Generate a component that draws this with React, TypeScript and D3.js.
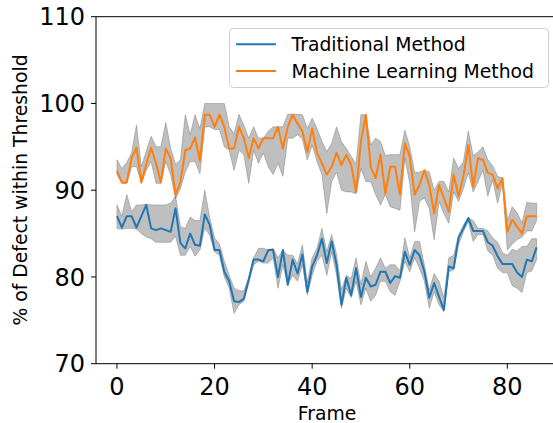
import React from "react";
import * as d3 from "d3";

const traditionalMean = [
  87.0, 85.7, 87.0, 87.0, 85.7, 87.0, 88.3, 85.6, 85.4, 85.6,
  85.4, 85.2, 87.9, 83.9, 83.3, 85.0, 83.7, 83.6, 87.2, 86.0,
  83.1, 83.1, 80.6, 79.5, 77.2, 77.1, 77.5, 79.7, 82.0, 82.0,
  81.8, 83.1, 83.1, 80.0, 83.1, 79.1, 82.0, 80.4, 82.6, 78.3,
  81.2, 82.5, 84.4, 81.6, 84.1, 81.4, 76.8, 79.9, 77.9, 81.0,
  77.7, 79.9, 78.9, 79.1, 80.6, 80.6, 79.3, 80.1, 79.9, 82.9,
  81.4, 83.1, 82.5, 80.6, 77.6, 79.3, 77.7, 76.2, 81.2, 81.0,
  84.5, 85.6, 86.8, 85.3, 85.3, 85.3, 84.0, 83.6, 82.4, 81.5,
  81.5, 81.5, 80.5, 80.0, 82.0, 81.8, 83.4,
];
const traditionalUpper = [
  88.3, 87.0, 89.5, 87.5, 88.3, 88.3, 88.4, 88.3, 88.3, 88.3,
  88.3, 88.5, 89.3, 85.8, 85.6, 86.9, 86.5, 86.5, 90.0, 86.8,
  84.5, 83.8, 81.8, 80.2, 78.7, 78.4, 78.4, 79.9, 82.2, 83.3,
  83.3, 83.1, 83.3, 82.2, 83.1, 82.5, 82.5, 81.5, 83.7, 79.4,
  82.2, 83.3, 85.6, 82.9, 84.9, 82.6, 78.5, 80.2, 79.8, 82.2,
  79.1, 81.8, 80.0, 81.0, 82.2, 81.0, 81.4, 81.4, 80.7, 84.5,
  82.2, 84.1, 84.1, 81.4, 78.5, 80.4, 79.5, 77.6, 82.2, 82.5,
  84.8, 86.0, 86.8, 86.5, 85.6, 85.6, 85.3, 84.5, 84.0, 82.8,
  82.5, 83.2, 83.0, 83.5, 83.5, 84.4, 84.4,
];
const traditionalLower = [
  85.6, 85.5, 85.6, 85.6, 85.5, 85.0, 84.6, 84.4, 84.0, 84.0,
  84.0, 84.0, 84.7, 82.5, 82.5, 83.5, 82.4, 83.1, 85.6, 84.8,
  82.9, 82.5, 80.0, 78.7, 75.8, 76.8, 77.2, 79.3, 81.4, 81.8,
  81.6, 81.6, 82.2, 78.7, 81.4, 79.1, 80.2, 79.5, 81.4, 77.9,
  80.2, 81.8, 82.5, 80.2, 82.9, 80.2, 76.4, 78.7, 77.6, 79.5,
  76.8, 78.7, 77.2, 77.9, 79.5, 79.5, 78.3, 77.9, 79.5, 81.8,
  80.6, 82.2, 81.0, 79.5, 76.4, 78.3, 76.8, 76.0, 80.6, 80.8,
  83.7, 85.2, 86.4, 84.1, 84.9, 84.9, 83.0, 82.5, 81.0, 80.5,
  80.5, 79.0, 78.7, 78.2, 80.5, 80.7, 82.0,
];

const mlMean = [
  92.2, 90.9, 90.9, 93.7, 94.9, 90.9, 93.0, 94.9, 93.1, 90.9,
  94.8, 93.7, 89.5, 90.9, 94.6, 94.8, 96.1, 93.4, 98.7, 98.7,
  97.3, 98.7, 97.3, 94.8, 94.8, 97.3, 96.0, 93.7, 96.0, 94.8,
  96.0, 96.0, 96.0, 97.3, 94.8, 97.3, 98.7, 97.7, 96.8, 94.4,
  97.1, 94.3, 93.1, 91.8, 92.7, 94.3, 92.9, 94.1, 92.9, 89.8,
  95.6, 98.7, 92.7, 91.4, 94.1, 89.6, 92.7, 92.7, 89.5, 95.4,
  93.9, 89.5, 90.6, 92.3, 90.6, 87.3, 90.6, 89.1, 87.5, 91.8,
  89.3, 91.6, 95.2, 90.4, 93.7, 93.5, 92.0, 91.8, 90.2, 91.4,
  85.2, 86.6, 85.8, 85.0, 87.0, 87.0, 87.0,
];
const mlUpper = [
  93.5, 92.5, 93.2, 94.3, 97.5, 92.7, 94.5, 96.2, 95.0, 95.0,
  97.8, 94.8, 93.0, 93.5, 98.7, 96.4, 98.7, 97.1, 100, 100,
  100, 100, 100, 97.3, 96.5, 98.75, 97.5, 96.0, 97.3, 96.0,
  96.0, 96.8, 97.3, 97.3, 97.3, 98.75, 98.75, 98.75, 98.7, 97.1,
  98.3, 97.1, 95.6, 94.45, 95.4, 97.3, 95.6, 94.8, 93.9, 93.0,
  98.7, 98.7, 95.2, 96.0, 95.6, 94.0, 94.1, 94.1, 94.1, 96.9,
  95.0, 92.0, 92.1, 92.3, 92.1, 90.0, 91.0, 91.0, 89.8, 93.7,
  92.5, 93.3, 96.8, 94.0, 94.4, 95.0, 93.5, 92.8, 91.6, 91.4,
  86.5, 88.1, 87.4, 86.2, 88.6, 88.5, 88.5,
];
const mlLower = [
  91.8, 90.8, 90.8, 92.7, 92.7, 90.8, 92.3, 93.3, 90.8, 90.8,
  93.3, 91.8, 89.0, 90.2, 92.1, 93.3, 93.3, 91.9, 97.3, 97.3,
  97.0, 97.0, 95.0, 94.6, 92.3, 94.6, 94.1, 90.8, 94.6, 93.1,
  94.3, 92.7, 91.8, 93.1, 91.6, 96.0, 96.0, 96.4, 95.9, 93.5,
  95.2, 93.3, 91.8, 87.3, 91.0, 92.1, 90.0, 89.8, 89.8, 89.6,
  92.5, 91.0, 91.0, 89.5, 88.3, 89.5, 88.1, 87.9, 87.7, 93.7,
  90.8, 85.2, 88.7, 89.1, 87.9, 84.3, 88.7, 87.3, 86.2, 89.8,
  88.7, 90.2, 92.0, 89.8, 91.0, 92.3, 89.3, 91.2, 88.5, 90.8,
  83.1, 83.8, 84.3, 84.6, 85.3, 85.3, 86.5,
];

const xTicks = [0, 20, 40, 60, 80];
const yTicks = [70, 80, 90, 100, 110];
const seriesNames = ["Traditional Method", "Machine Learning Method"];
const seriesColors = ["#1f77b4", "#ff7f0e"];

const W = 553;
const H = 423;
const FONT = "DejaVu Sans, sans-serif";

export default function App() {
  const x = d3.scaleLinear().domain([-4.3, 90.3]).range([96, 557.6]);
  const y = d3.scaleLinear().domain([70, 110]).range([363.7, 16.7]);
  const [x0, x1] = x.range();
  const [yb, yt] = y.range();

  const series = [
    { mean: traditionalMean, up: traditionalUpper, lo: traditionalLower },
    { mean: mlMean, up: mlUpper, lo: mlLower },
  ];

  const area = (up: number[], lo: number[]) =>
    d3
      .area<number>()
      .x((_, i) => x(i))
      .y0((_, i) => y(lo[i]))
      .y1((_, i) => y(up[i]))(up) || "";
  const line = (m: number[]) =>
    d3
      .line<number>()
      .x((_, i) => x(i))
      .y((d) => y(d))(m) || "";

  return (
    <svg
      width={W}
      height={H}
      style={{ position: "absolute", left: 0, top: 0, display: "block", background: "#fff" }}
      fontFamily={FONT}
    >
      {series.map((s, k) => (
        <path
          key={"band" + k}
          d={area(s.up, s.lo)}
          fill="gray"
          fillOpacity={0.5}
          stroke="gray"
          strokeOpacity={0.5}
          strokeWidth={1}
        />
      ))}
      {series.map((s, k) => (
        <path
          key={"line" + k}
          d={line(s.mean)}
          fill="none"
          stroke={seriesColors[k]}
          strokeWidth={2}
          strokeLinejoin="round"
        />
      ))}
      {/* spines */}
      <line x1={x0} x2={x0} y1={yt} y2={yb} stroke="#000" strokeWidth={1} />
      <line x1={x0} x2={x1} y1={yb} y2={yb} stroke="#000" strokeWidth={1} />
      <line x1={x0} x2={x1} y1={yt} y2={yt} stroke="#000" strokeWidth={1} />
      <line x1={x1} x2={x1} y1={yt} y2={yb} stroke="#000" strokeWidth={1} />
      {/* x ticks */}
      {xTicks.map((t) => (
        <g key={"xt" + t}>
          <line x1={x(t)} x2={x(t)} y1={yb} y2={yb + 5} stroke="#000" strokeWidth={1} />
          <text x={x(t)} y={395} textAnchor="middle" fontSize={24} fill="#000">
            {t}
          </text>
        </g>
      ))}
      {/* y ticks */}
      {yTicks.map((t) => (
        <g key={"yt" + t}>
          <line x1={x0 - 5} x2={x0} y1={y(t)} y2={y(t)} stroke="#000" strokeWidth={1} />
          <text x={85} y={y(t)} dy="0.36em" textAnchor="end" fontSize={24} fill="#000">
            {t}
          </text>
        </g>
      ))}
      <text x={327} y={420} textAnchor="middle" fontSize={18.8} fill="#000">
        Frame
      </text>
      <text
        transform={`translate(27,190) rotate(-90)`}
        textAnchor="middle"
        fontSize={18.8}
        fill="#000"
      >
        % of Defect within Threshold
      </text>
      {/* legend */}
      <rect
        x={229.5}
        y={28.5}
        width={319}
        height={59}
        rx={4}
        fill="#fff"
        fillOpacity={0.8}
        stroke="#cccccc"
        strokeWidth={1}
      />
      {seriesNames.map((n, k) => (
        <g key={"lg" + k}>
          <line
            x1={236}
            x2={276}
            y1={44.3 + k * 26.7}
            y2={44.3 + k * 26.7}
            stroke={seriesColors[k]}
            strokeWidth={2}
          />
          <text x={291.5} y={44.3 + k * 26.7} dy="0.36em" fontSize={18.8} fill="#000">
            {n}
          </text>
        </g>
      ))}
    </svg>
  );
}
